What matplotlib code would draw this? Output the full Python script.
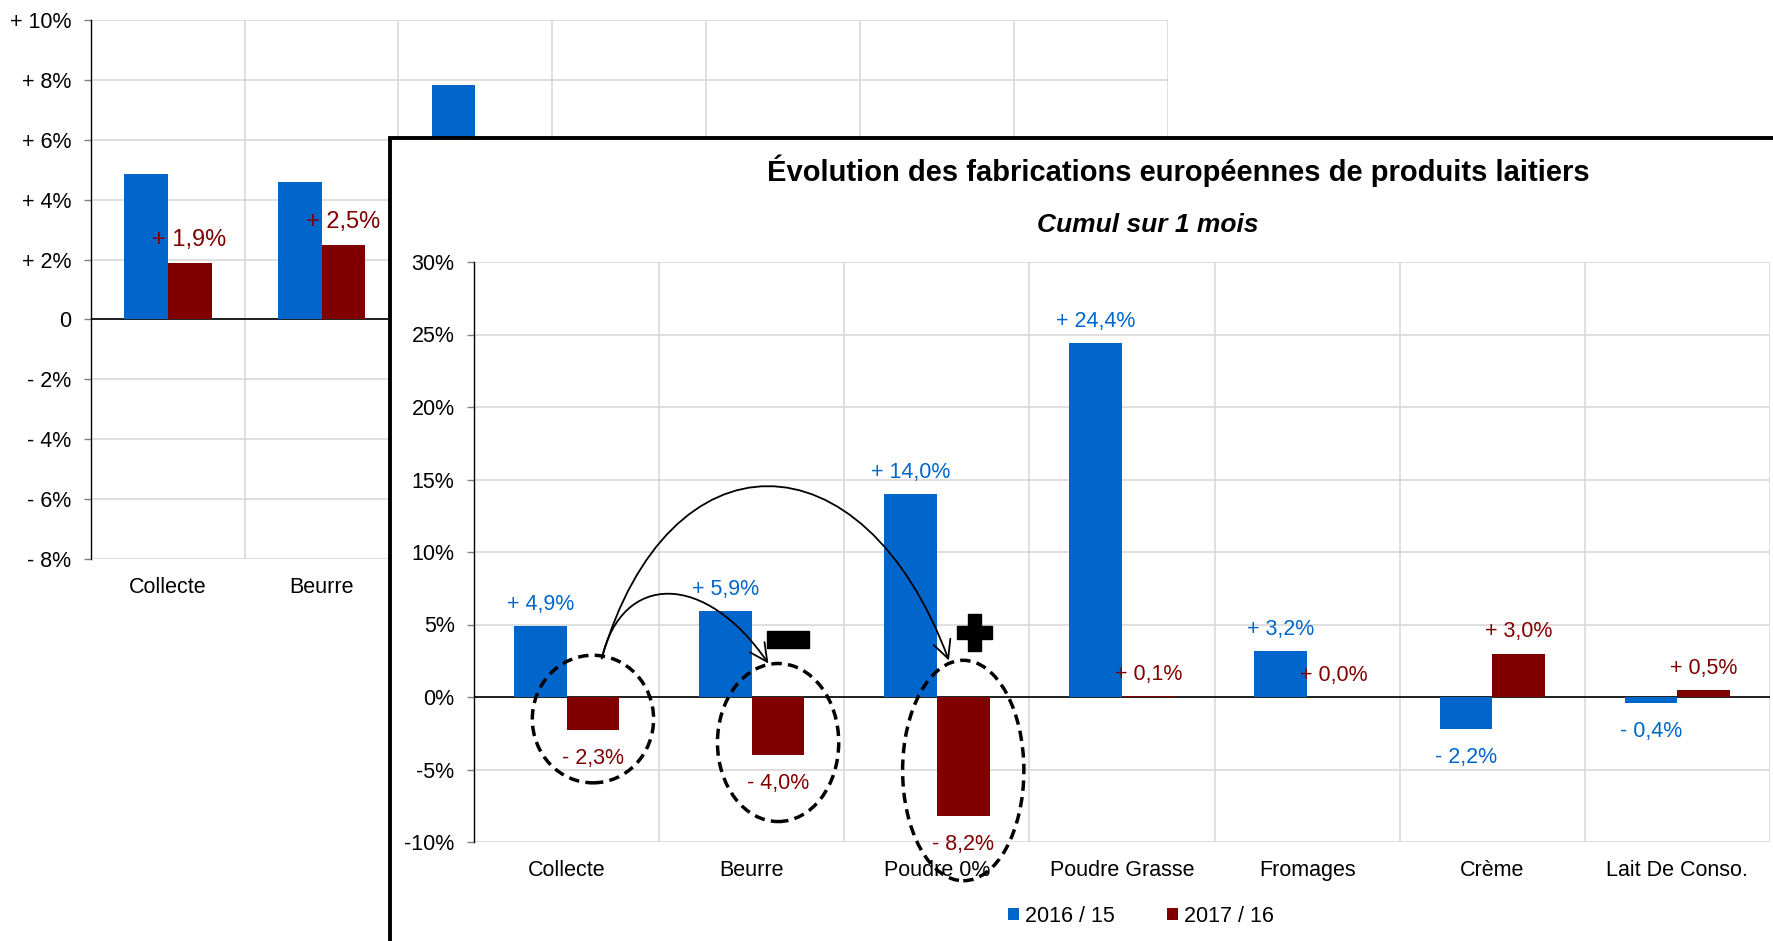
import numpy as np
import matplotlib.pyplot as plt
from matplotlib.patches import Rectangle, Ellipse, FancyArrowPatch
from matplotlib.path import Path

plt.rcParams["font.family"] = ["Liberation Sans", "DejaVu Sans"]

W, H = 1773, 941
BLUE = "#0066CC"
RED = "#800000"
GRID = "#D9D9D9"

categories = ["Collecte", "Beurre", "Poudre 0%", "Poudre Grasse",
              "Fromages", "Crème", "Lait De Conso."]
series_names = ["2016 / 15", "2017 / 16"]

# foreground chart (cumul sur 1 mois)
fg_2016 = [4.9, 5.9, 14.0, 24.4, 3.2, -2.2, -0.4]
fg_2017 = [-2.3, -4.0, -8.2, 0.1, 0.0, 3.0, 0.5]
fg_yticks = [-10, -5, 0, 5, 10, 15, 20, 25, 30]
fg_yticklabels = ["-10%", "-5%", "0%", "5%", "10%", "15%", "20%", "25%", "30%"]

# background chart, mostly hidden behind the panel (hidden values unknown)
bg_2016 = [4.85, 4.6, 7.85, np.nan, np.nan, np.nan, np.nan]
bg_2017 = [1.9, 2.5, np.nan, np.nan, np.nan, np.nan, np.nan]
bg_labels = ["Collecte", "Beurre", "", "", "", "", ""]
bg_yticks = [-8, -6, -4, -2, 0, 2, 4, 6, 8, 10]
bg_yticklabels = ["- 8%", "- 6%", "- 4%", "- 2%", "0",
                  "+ 2%", "+ 4%", "+ 6%", "+ 8%", "+ 10%"]

BAR_W = 0.285
FS = 15.5


def fmt(v):
    sign = "+" if v >= 0 else "-"
    return f"{sign} {abs(v):.1f}%".replace(".", ",")


def px_box(left, top, right, bottom):
    return [left / W, 1 - bottom / H, (right - left) / W, (bottom - top) / H]


def style_axes(ax, labels, yticks, yticklabels, ylim):
    x = np.arange(len(labels))
    ax.set_xlim(-0.5, len(labels) - 0.5)
    ax.set_ylim(*ylim)
    ax.set_xticks(x)
    ax.set_xticklabels(labels, fontsize=FS)
    ax.set_xticks(np.arange(len(labels) + 1) - 0.5, minor=True)
    ax.set_yticks(yticks)
    ax.set_yticklabels(yticklabels, fontsize=FS)
    ax.tick_params(axis="x", which="both", length=0, pad=13)
    ax.tick_params(axis="y", length=5, width=1, color="#808080", pad=9)
    ax.grid(True, axis="y", color=GRID, linewidth=1.2)
    ax.grid(True, axis="x", which="minor", color=GRID, linewidth=1.2)
    ax.set_axisbelow(True)
    for side in ("top", "right", "bottom"):
        ax.spines[side].set_visible(False)
    ax.spines["left"].set_linewidth(1)
    ax.axhline(0, color="black", linewidth=1.2, zorder=2)


def label_bars(ax, values, offset_x, color, size=FS, up=15.5, down=20.5):
    for i, v in enumerate(values):
        if np.isnan(v):
            continue
        dy = up if v >= 0 else -down
        ax.annotate(fmt(v), (i + offset_x, v), xytext=(0, dy),
                    textcoords="offset points", ha="center", va="center",
                    fontsize=size, color=color, zorder=4)


fig = plt.figure(figsize=(W / 100, H / 100), dpi=100)
x = np.arange(len(categories))

# ---- background chart
ax_bg = fig.add_axes(px_box(90.7, 20.3, 1168, 558.7), zorder=0)
ax_bg.bar(x - BAR_W / 2, bg_2016, BAR_W, color=BLUE, zorder=3)
ax_bg.bar(x + BAR_W / 2, bg_2017, BAR_W, color=RED, zorder=3)
style_axes(ax_bg, bg_labels, bg_yticks, bg_yticklabels, (-8, 10))
label_bars(ax_bg, bg_2017, BAR_W / 2, RED, size=17, up=16.5)

# ---- white panel with black border
panel = Rectangle((390 / W, -0.1), 1.0, 1.1 - 138.5 / H,
                  transform=fig.transFigure, facecolor="white",
                  edgecolor="black", linewidth=2.8, zorder=1)
fig.add_artist(panel)

# ---- foreground chart
ax = fig.add_axes(px_box(474, 262, 1770, 842), zorder=2)
ax.set_facecolor("none")
b1 = ax.bar(x - BAR_W / 2, fg_2016, BAR_W, color=BLUE, zorder=3,
            label=series_names[0])
b2 = ax.bar(x + BAR_W / 2, fg_2017, BAR_W, color=RED, zorder=3,
            label=series_names[1])
style_axes(ax, categories, fg_yticks, fg_yticklabels, (-10, 30))
label_bars(ax, fg_2016, -BAR_W / 2, BLUE)
label_bars(ax, fg_2017, BAR_W / 2, RED)

fig.text(1178 / W, 1 - 171 / H,
         "Évolution des fabrications européennes de produits laitiers",
         fontsize=21, fontweight="bold", ha="center", va="center", zorder=3)
fig.text(1148 / W, 1 - 225 / H, "Cumul sur 1 mois", fontsize=19,
         fontweight="bold", fontstyle="italic", ha="center", va="center",
         zorder=3)

fig.legend(handles=[b1, b2], loc="center", bbox_to_anchor=(1141 / W, 1 - 916 / H),
           ncol=2, frameon=False, fontsize=FS, handlelength=0.5,
           handleheight=0.5, handletextpad=0.3, columnspacing=2.4)

# ---- annotations: dashed circles round the falling 2017/16 bars
circles = [(0, -1.52, 8.8), (1, -3.14, 10.9), (2, -5.07, 15.2)]
for i, cy, h in circles:
    ax.add_patch(Ellipse((i + BAR_W / 2, cy), 0.655, h, fill=False,
                         edgecolor="black", linewidth=2.5,
                         linestyle=(0, (3, 1.8)), clip_on=False, zorder=5))

start = (0.19, 2.66)
arcs = [
    [start, (0.30, 8.65), (0.75, 8.65), (1.09, 2.31)],
    [start, (0.55, 18.5), (1.60, 18.5), (2.065, 2.52)],
]
for verts in arcs:
    path = Path(verts, [Path.MOVETO, Path.CURVE4, Path.CURVE4, Path.CURVE4])
    ax.add_patch(FancyArrowPatch(path=path, arrowstyle="->,head_length=0.8,head_width=0.4",
                                 mutation_scale=16, color="black", linewidth=1.3,
                                 clip_on=False, zorder=5))

# minus sign next to Beurre, plus sign next to Poudre 0%
ax.add_patch(Rectangle((1.197 - 0.115, 3.97 - 0.56), 0.23, 1.12,
                       color="black", zorder=5))
px_, py_ = 2.203, 4.45
ax.add_patch(Rectangle((px_ - 0.0945, py_ - 0.45), 0.189, 0.9,
                       color="black", zorder=5))
ax.add_patch(Rectangle((px_ - 0.0335, py_ - 1.29), 0.067, 2.58,
                       color="black", zorder=5))

fig.savefig("out.png", dpi=100)
